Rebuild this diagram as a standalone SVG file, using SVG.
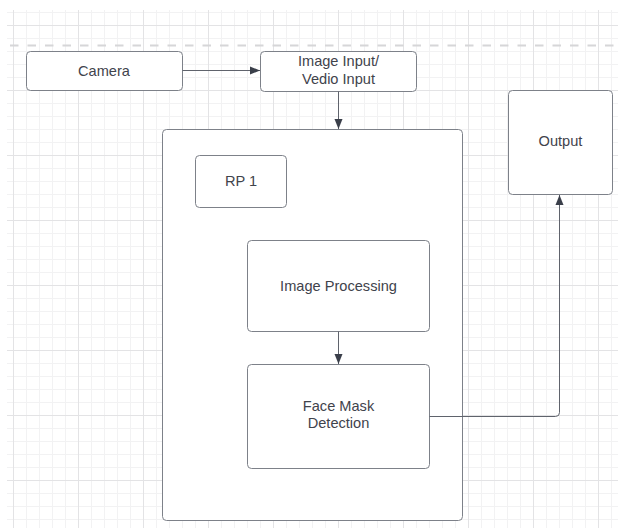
<svg xmlns="http://www.w3.org/2000/svg" width="618" height="528" viewBox="0 0 618 528">
  <defs>
    <!-- background grid: 13px minor cells, 65px major cells -->
    <pattern id="grid" patternUnits="userSpaceOnUse" x="13" y="25" width="65" height="65">
      <g fill="#f2f2f3">
        <rect x="13" y="0" width="1" height="65"/>
        <rect x="26" y="0" width="1" height="65"/>
        <rect x="39" y="0" width="1" height="65"/>
        <rect x="52" y="0" width="1" height="65"/>
        <rect x="0" y="13" width="65" height="1"/>
        <rect x="0" y="26" width="65" height="1"/>
        <rect x="0" y="39" width="65" height="1"/>
        <rect x="0" y="52" width="65" height="1"/>
      </g>
      <g fill="#e3e3e5">
        <rect x="0" y="0" width="1" height="65"/>
        <rect x="0" y="0" width="65" height="1"/>
      </g>
    </pattern>
    <marker id="arrow" viewBox="0 0 10 10" refX="10" refY="5" markerWidth="10" markerHeight="10" markerUnits="userSpaceOnUse" orient="auto">
      <path d="M0,1 L10,5 L0,9 Z" fill="#3a3f4a"/>
    </marker>
  </defs>
  <style>
    .box { fill: #ffffff; stroke: #7d8189; stroke-width: 1; }
    .label { font-family: "Liberation Sans", Arial, sans-serif; font-size: 14.6px; fill: #3f434c; text-anchor: middle; }
    .edge { fill: none; stroke: #5f636c; stroke-width: 1; }
  </style>

  <rect x="0" y="0" width="618" height="528" fill="#ffffff"/>
  <rect x="7" y="10" width="611" height="518" fill="url(#grid)"/>
  <!-- page break guide -->
  <line x1="10" y1="45.5" x2="618" y2="45.5" stroke="#d6d6d8" stroke-width="2" stroke-dasharray="8.5 9"/>

  <g id="container">
    <rect class="box" x="162.5" y="129.5" width="300" height="391" rx="4"/>
  </g>

  <g id="camera">
    <rect class="box" x="26.5" y="51.5" width="156" height="39" rx="4"/>
    <text class="label" x="104" y="75.5">Camera</text>
  </g>

  <g id="image-input">
    <rect class="box" x="260.5" y="51.5" width="156" height="40" rx="4"/>
    <text class="label" x="338.5" y="66">Image Input/</text>
    <text class="label" x="338.5" y="83.5">Vedio Input</text>
  </g>

  <g id="output">
    <rect class="box" x="508.5" y="90.5" width="104" height="104" rx="4"/>
    <text class="label" x="560.5" y="145.5">Output</text>
  </g>

  <g id="rp1">
    <rect class="box" x="195.5" y="155.5" width="91" height="52" rx="4"/>
    <text class="label" x="241" y="185.5">RP 1</text>
  </g>

  <g id="image-processing">
    <rect class="box" x="247.5" y="240.5" width="182" height="91" rx="4"/>
    <text class="label" x="338.5" y="290.5">Image Processing</text>
  </g>

  <g id="face-mask-detection">
    <rect class="box" x="247.5" y="364.5" width="182" height="104" rx="4"/>
    <text class="label" x="338.5" y="410.5">Face Mask</text>
    <text class="label" x="338.5" y="427.5">Detection</text>
  </g>

  <g id="connectors">
    <path class="edge" d="M182.5,70.5 H260" marker-end="url(#arrow)"/>
    <path class="edge" d="M338.5,91.5 V129" marker-end="url(#arrow)"/>
    <path class="edge" d="M338.5,331.5 V364" marker-end="url(#arrow)"/>
    <path class="edge" d="M429.5,416.5 H555.5 Q559.5,416.5 559.5,412.5 V195" marker-end="url(#arrow)"/>
  </g>
</svg>
